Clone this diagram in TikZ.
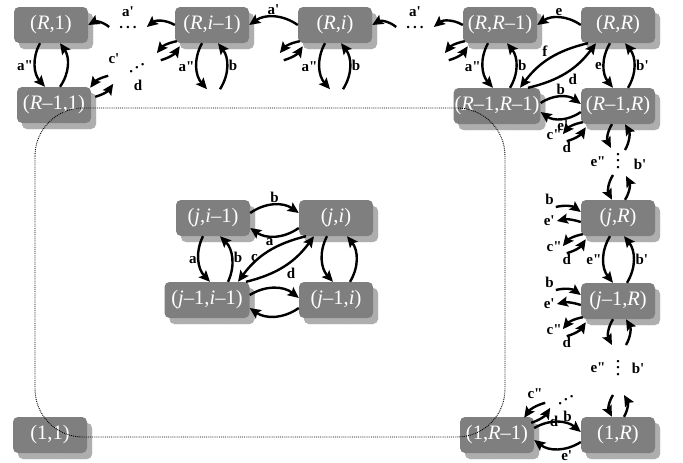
\documentclass[tikz,border=0pt]{standalone}
\usepackage{fontspec}
\setmainfont{Liberation Serif}
\usetikzlibrary{arrows.meta,shadows,patterns}
\definecolor{boxgray}{HTML}{7F7F7F}
\definecolor{shadegray}{HTML}{ABABAB}
\newcommand{\apos}{\textquotesingle}
\newcommand{\dapos}{\textquotedbl}
\tikzset{
  state/.style={fill=boxgray, rounded corners=5pt, minimum width=74pt, minimum height=36pt,
    inner sep=1pt, text=white, font=\fontsize{20.5}{20.5}\selectfont,
    general shadow={fill=shadegray, shadow xshift=5pt, shadow yshift=-6pt},
    general shadow={pattern=crosshatch, pattern color=boxgray!60, shadow xshift=5pt, shadow yshift=-6pt}},
  arr/.style={-{Stealth[length=11pt,width=10pt,inset=2pt]}, line width=2.4pt},
  lab/.style={font=\fontsize{15}{15}\selectfont\bfseries, inner sep=1pt},
  dots/.style={font=\fontsize{15}{15}\selectfont\bfseries, inner sep=0pt},
}
\begin{document}
\begin{tikzpicture}[x=1pt,y=-1pt]
\useasboundingbox (0,0) rectangle (683,463);
%%
\newcommand{\swpair}[1]{% short pair at the lower left corner
  \coordinate (#1-c) at ([shift={(-18,10)}]#1.south west);
  \coordinate (#1-d) at ([shift={(-14,17)}]#1.south west);
  \draw[arr] ([shift={(2,-2)}]#1.south west) to[bend right=20] (#1-c);
  \draw[arr] (#1-d) to[bend right=20] ([shift={(5,3)}]#1.south west);}
\newcommand{\belowpair}[1]{% short pair under a node of the top row
  \coordinate (#1-dn) at ([shift={(-5,46)}]#1.south);
  \coordinate (#1-up) at ([shift={(8,46)}]#1.south);
  \draw[arr] ([xshift=-10pt]#1.south) to[bend right=35] node[lab,left]{a\dapos} (#1-dn);
  \draw[arr] (#1-up) to[bend right=35] node[lab,right]{b} ([xshift=6pt]#1.south);}
\newcommand{\sidearrows}[1]{% arrows on the left side of the right column
  \coordinate (#1-b) at ([shift={(-25,-11)}]#1.west);
  \coordinate (#1-e) at ([shift={(-24,3)}]#1.west);
  \draw[arr] (#1-b) to[bend left=25] node[lab,at start,above left]{b} ([yshift=6pt]#1.west);
  \draw[arr] ([yshift=-4pt]#1.west) to[bend right=15] node[lab,at end,left]{e\apos} (#1-e);
  \swpair{#1}
  \node[lab,left] (#1-lc) at (#1-c) {c\dapos};
  \node[lab,below] (#1-ld) at (#1-d) {d};}
%%
% top row
\node[state] (R1) at (51,25) {(\textit{R},1)};
\node[state] (Ri1) at (212,25) {(\textit{R},\textit{i}--1)};
\node[state] (Ri) at (335,25) {(\textit{R},\textit{i})};
\node[state] (RR1) at (500,25) {(\textit{R},\textit{R}--1)};
\node[state] (RR) at (618,25) {(\textit{R},\textit{R})};
% second row
\node[state] (Rm11) at (54,105) {(\textit{R}--1,1)};
\node[state] (Rm1Rm1) at (497,106) {(\textit{R}--1,\textit{R}--1)};
\node[state] (Rm1R) at (618,106) {(\textit{R}--1,\textit{R})};
% inner block
\node[state] (ji1) at (213,218) {(\textit{j},\textit{i}--1)};
\node[state] (ji) at (336,218) {(\textit{j},\textit{i})};
\node[state,minimum width=85pt] (jm1i1) at (207,300) {(\textit{j}--1,\textit{i}--1)};
\node[state] (jm1i) at (336,300) {(\textit{j}--1,\textit{i})};
% right column
\node[state] (jR) at (618,218) {(\textit{j},\textit{R})};
\node[state] (jm1R) at (618,301) {(\textit{j}--1,\textit{R})};
% bottom row
\node[state] (oo) at (50,435) {(1,1)};
\node[state] (oRm1) at (497,435) {(1,\textit{R}--1)};
\node[state] (oR) at (618,435) {(1,\textit{R})};
%
\node[dots,inner xsep=10pt] (hd1) at (128,27) {.\hspace{3pt}.\hspace{3pt}.};
\node[dots,inner xsep=10pt] (hd2) at (415,27) {.\hspace{3pt}.\hspace{3pt}.};
\node[dots,rotate=30] (dd1) at (137,68) {.\hspace{3pt}.\hspace{3pt}.};
\node[dots,rotate=30] (dd2) at (566,400) {.\hspace{3pt}.\hspace{3pt}.};
\node[dots,rotate=90] (vd1) at (618,161) {.\hspace{3pt}.\hspace{3pt}.};
\node[dots,rotate=90] (vd2) at (618,368) {.\hspace{3pt}.\hspace{3pt}.};
\node[lab] (la1) at (128,12) {a\apos};
\node[lab] (la2) at (415,12) {a\apos};
\node[lab] (lc1) at (114,59) {c\apos};
\node[lab] (ld1) at (138,85) {d};
\node[lab] (lc2) at (535,394) {c\dapos};
\node[lab] (ld2) at (554,421) {d};
\node[lab] (le1) at (598,162) {e\dapos};
\node[lab] (lb1) at (640,164) {b\apos};
\node[lab] (le2) at (598,368) {e\dapos};
\node[lab] (lb2) at (638,368) {b\apos};
%
% top row arrows
\draw[arr] (Ri1.west) to[bend right=35] (hd1.east);
\draw[arr] (hd1.west) to[bend right=35] (R1.east);
\draw[arr] (Ri.west) to[bend right=35] node[lab,above]{a\apos} (Ri1.east);
\draw[arr] (RR1.west) to[bend right=35] (hd2.east);
\draw[arr] (hd2.west) to[bend right=35] (Ri.east);
\draw[arr] (RR.west) to[bend right=35] node[lab,above]{e} (RR1.east);
\swpair{Ri1} \swpair{Ri} \swpair{RR1}
\belowpair{Ri1} \belowpair{Ri}
% left column
\draw[arr] ([xshift=-11pt]R1.south) to[bend right=35] node[lab,left]{a\dapos} ([xshift=-9pt]Rm11.north);
\draw[arr] ([xshift=6pt]Rm11.north) to[bend right=35] ([xshift=9pt]R1.south);
\coordinate (Rm11-c) at ([shift={(17,-11)}]Rm11.north east);
\coordinate (Rm11-d) at ([shift={(22,-3)}]Rm11.north east);
\draw[arr] (Rm11-c) to[bend right=20] ([shift={(-1,1)}]Rm11.north east);
\draw[arr] ([shift={(4,10)}]Rm11.north east) to[bend right=20] (Rm11-d);
% upper right corner
\draw[arr] ([xshift=-12pt]RR1.south) to[bend right=35] node[lab,left]{a\dapos} ([xshift=-4pt]Rm1Rm1.north);
\draw[arr] ([xshift=13pt]Rm1Rm1.north) to[bend right=35] node[lab,right]{b} ([xshift=7pt]RR1.south);
\draw[arr] ([xshift=-8pt]RR.south) to[bend right=35] node[lab,left]{e} ([xshift=-5pt]Rm1R.north);
\draw[arr] ([xshift=10pt]Rm1R.north) to[bend right=35] node[lab,right]{b\apos} ([xshift=7pt]RR.south);
\draw[arr] ([xshift=-30pt]RR.south) to[bend right=20] node[lab,above left]{f} ([xshift=23pt]Rm1Rm1.north);
\draw[arr] ([xshift=31pt]Rm1Rm1.north) to[bend right=20] node[lab,below right]{d} ([xshift=-22pt]RR.south);
\draw[arr] ([yshift=3pt]Rm1Rm1.east) to[bend left=35] node[lab,above]{b} ([yshift=2pt]Rm1R.west);
\draw[arr] ([yshift=-6pt]Rm1R.west) to[bend left=35] node[lab,pos=0.45,below]{e\apos} ([yshift=-6pt]Rm1Rm1.east);
\swpair{Rm1R}
\node[lab,left] (Rm1R-lc) at (Rm1R-c) {c\dapos};
\node[lab,below] (Rm1R-ld) at (Rm1R-d) {d};
% right column
\coordinate (v1a) at (611,148); \coordinate (v1b) at (625,150);
\coordinate (v1c) at (613,175); \coordinate (v1d) at (626,176);
\draw[arr] ([xshift=-6pt]Rm1R.south) to[bend right=30] (v1a);
\draw[arr] (v1b) to[bend right=30] ([xshift=7pt]Rm1R.south);
\draw[arr] (v1c) to[bend right=30] ([xshift=-6pt]jR.north);
\draw[arr] ([xshift=7pt]jR.north) to[bend right=30] (v1d);
\sidearrows{jR}
\draw[arr] ([xshift=-8pt]jR.south) to[bend right=35] node[lab,left]{e\dapos} ([xshift=-5pt]jm1R.north);
\draw[arr] ([xshift=9pt]jm1R.north) to[bend right=35] node[lab,right]{b\apos} ([xshift=6pt]jR.south);
\sidearrows{jm1R}
\coordinate (v2a) at (612,345); \coordinate (v2b) at (626,345);
\coordinate (v2c) at (613,395); \coordinate (v2d) at (624,395);
\draw[arr] ([xshift=-5pt]jm1R.south) to[bend right=30] (v2a);
\draw[arr] (v2b) to[bend right=30] ([xshift=8pt]jm1R.south);
\draw[arr] (v2c) to[bend right=30] ([xshift=-6pt]oR.north);
\draw[arr] ([xshift=6pt]oR.north) to[bend right=30] (v2d);
% bottom right
\draw[arr] ([yshift=7pt]oRm1.east) to[bend left=35] node[lab,pos=0.7,above]{b} ([yshift=3pt]oR.west);
\draw[arr] ([yshift=-7pt]oR.west) to[bend left=35] node[lab,pos=0.3,below]{e\apos} ([yshift=-5pt]oRm1.east);
\coordinate (oRm1-c) at ([shift={(11,-14)}]oRm1.north east);
\coordinate (oRm1-d) at ([shift={(16,-9)}]oRm1.north east);
\draw[arr] (oRm1-c) to[bend right=20] ([shift={(-10,1)}]oRm1.north east);
\draw[arr] ([shift={(-3,6)}]oRm1.north east) to[bend right=20] (oRm1-d);
% inner block
\draw[arr] ([yshift=5pt]ji1.east) to[bend left=35] node[lab,above]{b} ([yshift=5pt]ji.west);
\draw[arr] ([yshift=-10pt]ji.west) to[bend left=35] node[lab,pos=0.6,below]{a} ([yshift=-10pt]ji1.east);
\draw[arr] ([xshift=-10pt]ji1.south) to[bend right=35] node[lab,left]{a} ([xshift=3pt]jm1i1.north);
\draw[arr] ([xshift=21pt]jm1i1.north) to[bend right=35] node[lab,right]{b} ([xshift=7pt]ji1.south);
\draw[arr] ([xshift=-30pt]ji.south) to[bend right=20] node[lab,pos=0.62,left]{c} ([xshift=31pt]jm1i1.north);
\draw[arr] ([xshift=39pt]jm1i1.north) to[bend right=20] node[lab,below right]{d} ([xshift=-22pt]ji.south);
\draw[arr] ([xshift=-9pt]ji.south) to[bend right=35] ([xshift=-3pt]jm1i.north);
\draw[arr] ([xshift=14pt]jm1i.north) to[bend right=35] ([xshift=11pt]ji.south);
\draw[arr] ([yshift=5pt]jm1i1.east) to[bend left=35] ([yshift=2pt]jm1i.west);
\draw[arr] ([yshift=-8pt]jm1i.west) to[bend left=35] ([yshift=-8pt]jm1i1.east);
%
\draw[densely dotted, line width=0.9pt, rounded corners=48pt] (35,108) rectangle (505,437);
\end{tikzpicture}
\end{document}
